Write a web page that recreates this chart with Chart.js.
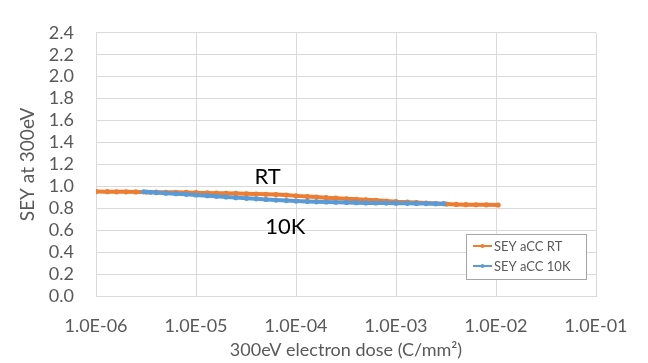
<!DOCTYPE html>
<html><head><meta charset="utf-8">
<script src="https://cdn.jsdelivr.net/npm/chart.js@4/dist/chart.umd.min.js"></script>
<style>html,body{margin:0;padding:0;background:#fff}#wrap{width:648px;height:363px}</style>
</head><body><div id="wrap"><canvas id="c" width="648" height="363"></canvas></div>
<script>
const xTicks = [1e-6, 1e-5, 1e-4, 1e-3, 1e-2, 1e-1];
const yTicksMax = 2.4;
const rtDose = [1.0e-6,1.3e-6,1.6e-6,2e-6,2.5e-6,3.2e-6,4e-6,5e-6,6.3e-6,8e-6,1e-5,1.3e-5,1.6e-5,2e-5,2.5e-5,3.2e-5,4e-5,5e-5,6.3e-5,8e-5,1e-4,1.3e-4,1.6e-4,2e-4,2.5e-4,3.2e-4,4e-4,5e-4,6.3e-4,8e-4,1e-3,1.3e-3,1.6e-3,2e-3,2.5e-3,3.2e-3,4e-3,5e-3,6.3e-3,8e-3,1.05e-2];
const rtSey = [0.952,0.951,0.950,0.950,0.949,0.948,0.947,0.946,0.945,0.944,0.942,0.940,0.938,0.937,0.935,0.932,0.930,0.928,0.925,0.920,0.913,0.907,0.902,0.897,0.892,0.887,0.882,0.877,0.872,0.866,0.860,0.856,0.852,0.848,0.843,0.838,0.835,0.833,0.832,0.831,0.830];
const k10Dose = [3e-6,3.5e-6,4e-6,5e-6,6.3e-6,8e-6,1e-5,1.3e-5,1.6e-5,2e-5,2.5e-5,3.2e-5,4e-5,5e-5,6.3e-5,8e-5,1e-4,1.3e-4,1.6e-4,2e-4,2.5e-4,3.2e-4,4e-4,5e-4,6.3e-4,8e-4,1e-3,1.3e-3,1.6e-3,2e-3,2.5e-3,3e-3];
const k10Sey = [0.950,0.946,0.943,0.938,0.933,0.927,0.921,0.915,0.909,0.903,0.897,0.891,0.886,0.880,0.875,0.870,0.866,0.862,0.859,0.857,0.855,0.853,0.851,0.849,0.848,0.847,0.846,0.845,0.844,0.843,0.842,0.842];
const seriesNames = ['SEY aCC RT', 'SEY aCC 10K'];
const seriesColors = ['#ED7D31', '#5B9BD5'];
const annotations = [{text:'RT', x:5.2e-5, y:1.09}, {text:'10K', x:7.8e-5, y:0.63}];

const FONT = 'Lato, "Open Sans", "DejaVu Sans", sans-serif';
const toPts = (xs, ys) => xs.map((x,i)=>({x, y: ys[i]}));
function fmt(v){
  const e = Math.round(Math.log10(v));
  const s = e < 0 ? '-' : '+';
  const a = Math.abs(e);
  return '1.0E' + s + (a < 10 ? '0' + a : a);
}

const overlay = {
  id: 'overlay',
  afterDraw(chart){
    const ctx = chart.ctx, xs = chart.scales.x, ys = chart.scales.y;
    ctx.save();
    ctx.fillStyle = '#000';
    ctx.font = '22px ' + FONT;
    ctx.textAlign = 'center'; ctx.textBaseline = 'middle';
    annotations.forEach(a => ctx.fillText(a.text, xs.getPixelForValue(a.x), ys.getPixelForValue(a.y)));
    // legend
    const L = 466, T = 234, W = 120, H = 45;
    ctx.fillStyle = '#fff'; ctx.fillRect(L, T, W, H);
    ctx.strokeStyle = '#a6a6a6'; ctx.lineWidth = 1; ctx.strokeRect(L + 0.5, T + 0.5, W, H);
    ctx.font = '13px ' + FONT; ctx.textAlign = 'left';
    seriesNames.forEach((n, i) => {
      const y = T + 12 + i * 20;
      ctx.strokeStyle = seriesColors[i]; ctx.lineWidth = 2;
      ctx.beginPath(); ctx.moveTo(L + 7, y); ctx.lineTo(L + 26, y); ctx.stroke();
      ctx.fillStyle = seriesColors[i];
      ctx.beginPath(); ctx.arc(L + 16.5, y, 2, 0, Math.PI*2); ctx.fill();
      ctx.fillStyle = '#595959';
      ctx.fillText(n, L + 28, y + 1);
    });
    ctx.restore();
  }
};

new Chart(document.getElementById('c'), {
  type: 'line',
  data: {
    datasets: [
      {label: seriesNames[0], data: toPts(rtDose, rtSey), borderColor: seriesColors[0], backgroundColor: seriesColors[0], borderWidth: 4, pointRadius: 2.6, pointBorderWidth: 0, order: 2},
      {label: seriesNames[1], data: toPts(k10Dose, k10Sey), borderColor: seriesColors[1], backgroundColor: seriesColors[1], borderWidth: 4, pointRadius: 2.6, pointBorderWidth: 0, order: 1}
    ]
  },
  options: {
    responsive: false, animation: false, devicePixelRatio: 1,
    layout: {padding: {left: 0, right: 52, top: 18, bottom: 0}},
    plugins: {legend: {display: false}, tooltip: {enabled: false}},
    scales: {
      x: {
        type: 'logarithmic', min: xTicks[0], max: xTicks[xTicks.length-1],
        afterBuildTicks: s => { s.ticks = xTicks.map(v => ({value: v})); },
        afterFit: s => { s.height = 363 - 18 - 278; },
        grid: {color: '#d9d9d9', drawTicks: false, lineWidth: 1},
        border: {color: '#d9d9d9'},
        ticks: {callback: v => fmt(v), color: '#595959', font: {size: 18, family: FONT}, padding: 19, maxRotation: 0, autoSkip: false},
        title: {display: true, text: '300eV electron dose (C/mm²)', color: '#595959', font: {size: 18, family: FONT}, padding: {top: 0, bottom: 2}}
      },
      y: {
        min: 0, max: yTicksMax,
        afterFit: s => { s.width = 96; },
        grid: {color: '#d9d9d9', drawTicks: false, lineWidth: 1},
        border: {color: '#d9d9d9'},
        ticks: {stepSize: 0.2, autoSkip: false, callback: v => v.toFixed(1), color: '#595959', font: {size: 18, family: FONT}, padding: 22},
        title: {display: true, text: 'SEY at 300eV', color: '#595959', font: {size: 19, family: FONT}, padding: {top: 16, bottom: 0}}
      }
    }
  },
  plugins: [overlay]
});
</script></body></html>
